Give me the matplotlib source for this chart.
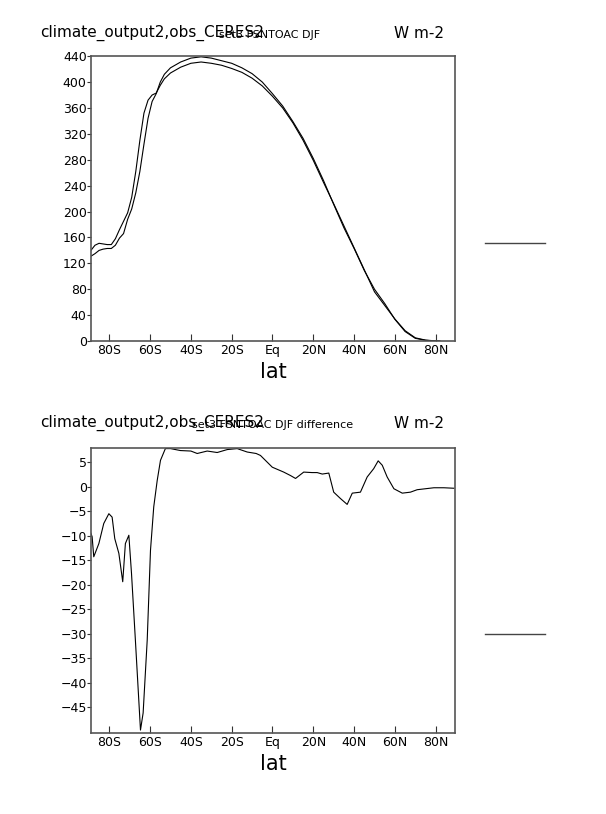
import matplotlib
matplotlib.use("Agg")
import matplotlib.pyplot as plt
from matplotlib.lines import Line2D

plt.rcParams['font.family'] = ['DejaVu Sans']

# zonal mean FSNTOAC, DJF (W m-2)
lat = [-89, -87, -85, -83, -81, -79, -77, -75, -73, -71, -69, -67, -65, -63,
       -61, -59, -57, -55, -53, -50, -45, -40, -35, -30, -25, -20, -15, -10,
       -5, 0, 5, 10, 15, 20, 25, 30, 35, 40, 45, 50, 55, 60, 65, 70, 75, 80, 82]
obs = [140, 148, 151, 150, 149, 149, 158, 172, 185, 198, 222, 262, 310, 352,
       372, 380, 383, 395, 405, 414, 423, 429, 431, 429, 426, 421, 415, 406,
       394, 378, 360, 337, 310, 279, 245, 212, 178, 144, 110, 76, 55, 34, 16,
       5, 1.5, 0.3, 0]
model = [131, 135, 140, 142, 143, 143, 148, 159, 166, 188, 204, 229, 262, 304,
         344, 370, 382, 400, 412, 422, 431, 437, 439, 437, 433, 429, 422, 413,
         400, 382, 363, 339, 313, 282, 248, 211, 175, 143, 109, 80, 58, 33.5,
         14.7, 4.2, 1.2, 0.1, 0]

# difference (model - obs)
lat_d = [-89.0, -88.4, -87.6, -85.1, -82.7, -80.2, -78.6, -77.3, -75.3, -73.4,
         -72.1, -70.4, -69.1, -67.2, -64.7, -63.4, -61.4, -59.8, -58.2, -56.5,
         -54.9, -52.5, -50.0, -45.1, -40.0, -36.9, -32.0, -27.1, -22.2, -17.3,
         -12.4, -8.0, -5.9, -0.1, 5.5, 8.8, 11.3, 15.3, 19.4, 21.9, 24.4, 27.6,
         30.0, 33.3, 36.6, 39.1, 43.1, 46.4, 49.6, 51.8, 53.8, 56.2, 59.5, 63.6,
         67.6, 70.9, 75.0, 79.1, 84.0, 88.9]
diff = [-9.5, -10.2, -14.3, -11.6, -7.5, -5.5, -6.2, -10.6, -13.6, -19.4,
        -11.6, -9.9, -17.7, -31.3, -49.7, -46.2, -31.3, -13.0, -4.1, 1.3,
        5.4, 7.8, 7.8, 7.4, 7.3, 6.8, 7.3, 7.0, 7.6, 7.8,
        7.1, 6.8, 6.4, 4.0, 3.0, 2.3, 1.7, 3.0, 2.9, 2.9, 2.6, 2.8,
        -1.1, -2.4, -3.6, -1.3, -1.1, 2.0, 3.7, 5.3, 4.4, 2.0, -0.4, -1.3,
        -1.1, -0.6, -0.4, -0.2, -0.2, -0.3]

xticks = [-80, -60, -40, -20, 0, 20, 40, 60, 80]
xlabels = ['80S', '60S', '40S', '20S', 'Eq', '20N', '40N', '60N', '80N']

fig = plt.figure(figsize=(6.06, 8.14), dpi=100)
ax1 = fig.add_axes([0.150, 0.581, 0.601, 0.350])
ax2 = fig.add_axes([0.150, 0.0995, 0.601, 0.350])


def style(ax):
    for s in ax.spines.values():
        s.set_color('#555555')
        s.set_linewidth(1.2)
    ax.set_xlim(-89, 89.5)
    ax.set_xticks(xticks)
    ax.set_xticklabels(xlabels)
    ax.tick_params(axis='x', direction='in', length=5, pad=2, labelsize=9,
                   color='#333333')
    ax.tick_params(axis='y', direction='out', length=3, pad=0, labelsize=9,
                   color='#333333')
    ax.set_xlabel('lat', fontsize=15, labelpad=4)


ax1.plot(lat, obs, color='black', lw=0.8)
ax1.plot(lat, model, color='black', lw=0.8)
ax1.set_ylim(0, 440)
ax1.set_yticks(range(0, 441, 40))
style(ax1)

ax2.plot(lat_d, diff, color='black', lw=0.8)
ax2.set_ylim(-50.3, 7.9)
ax2.set_yticks(range(-45, 6, 5))
style(ax2)

# titles
fig.text(40 / 606, 1 - 33 / 814, 'climate_output2,obs_CERES2', fontsize=11,
         ha='left', va='center')
fig.text(270 / 606, 1 - 35 / 814, 'set3 FSNTOAC DJF', fontsize=8,
         ha='center', va='center')
fig.text(444 / 606, 1 - 33 / 814, 'W m-2', fontsize=11, ha='right', va='center')

fig.text(40 / 606, 1 - 423 / 814, 'climate_output2,obs_CERES2', fontsize=11,
         ha='left', va='center')
fig.text(273 / 606, 1 - 425 / 814, 'set3 FSNTOAC DJF difference', fontsize=8,
         ha='center', va='center')
fig.text(444 / 606, 1 - 423 / 814, 'W m-2', fontsize=11, ha='right', va='center')

# legend stubs
for yy in (243, 634):
    fig.add_artist(Line2D([485 / 606, 545 / 606], [1 - yy / 814, 1 - yy / 814],
                          color='#444444', lw=1.0))

fig.savefig('out.png', dpi=100)
